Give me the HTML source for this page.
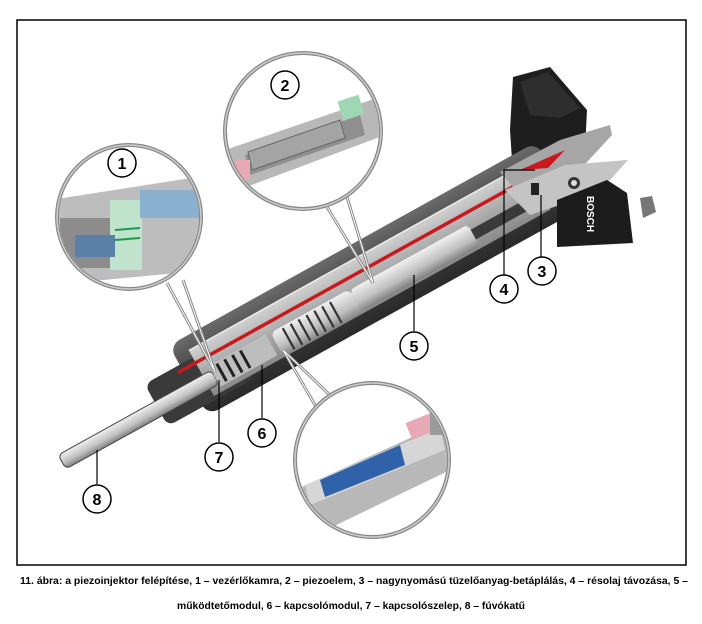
<!DOCTYPE html>
<html><head><meta charset="utf-8"><style>
html,body{margin:0;padding:0;background:#fff;}
svg{display:block;}
</style></head><body>
<svg width="702" height="624" viewBox="0 0 702 624" xmlns="http://www.w3.org/2000/svg">
<defs>
<linearGradient id="dk" x1="0" y1="0" x2="0" y2="1"><stop offset="0" stop-color="#6a6a6a"/><stop offset="0.5" stop-color="#3e3e3e"/><stop offset="1" stop-color="#2a2a2a"/></linearGradient>
<linearGradient id="lt" x1="0" y1="0" x2="0" y2="1"><stop offset="0" stop-color="#d0d0d0"/><stop offset="0.5" stop-color="#a9a9a9"/><stop offset="1" stop-color="#8a8a8a"/></linearGradient>
<linearGradient id="cy" x1="0" y1="0" x2="0" y2="1"><stop offset="0" stop-color="#f0f0f0"/><stop offset="0.6" stop-color="#c0c0c0"/><stop offset="1" stop-color="#808080"/></linearGradient>
<clipPath id="c1"><circle cx="129" cy="217" r="70"/></clipPath>
<clipPath id="c2"><circle cx="303" cy="131" r="76"/></clipPath>
<clipPath id="c3"><circle cx="372" cy="460" r="75"/></clipPath>
</defs>
<rect x="17" y="20" width="669" height="545" fill="#fff" stroke="#000" stroke-width="1.5"/>

<polygon points="513,77 550,67 587,110 585,150 540,170 512,160 510,130" fill="#1e1e1e"/>
<polygon points="520,82 548,72 580,108 560,118 530,115" fill="#2e2e2e"/>

<g transform="translate(62,462) rotate(-29)">
  <rect x="150" y="-50" width="420" height="80" rx="12" fill="url(#dk)"/>
  <rect x="110" y="-28" width="100" height="48" rx="8" fill="#3a3a3a"/>
  <rect x="165" y="-36" width="385" height="52" fill="url(#lt)"/>
  <rect x="0" y="-8" width="175" height="16" rx="5" fill="url(#cy)" stroke="#444" stroke-width="1"/>
  <rect x="175" y="-13" width="65" height="24" fill="#bdbdbd"/>
  <g stroke="#222" stroke-width="3">
    <line x1="183" y1="-11" x2="183" y2="9"/><line x1="192" y1="-11" x2="192" y2="9"/><line x1="201" y1="-11" x2="201" y2="9"/><line x1="210" y1="-11" x2="210" y2="9"/>
  </g>
  <rect x="245" y="-12" width="90" height="28" rx="6" fill="url(#cy)"/>
  <g stroke="#333" stroke-width="2.2">
    <line x1="258" y1="-10" x2="258" y2="14"/><line x1="267" y1="-10" x2="267" y2="14"/><line x1="276" y1="-10" x2="276" y2="14"/><line x1="285" y1="-10" x2="285" y2="14"/><line x1="294" y1="-10" x2="294" y2="14"/><line x1="303" y1="-10" x2="303" y2="14"/><line x1="312" y1="-10" x2="312" y2="14"/>
  </g>
  <rect x="335" y="-11" width="135" height="25" rx="5" fill="url(#cy)"/>
  <rect x="470" y="-5" width="60" height="11" fill="#3a3a3a"/>
  <line x1="145" y1="-22" x2="600" y2="-22" stroke="#c8191e" stroke-width="3.5"/>
  <line x1="165" y1="-36" x2="550" y2="-36" stroke="#ececec" stroke-width="1.5"/>
</g>

<polygon points="500,172 560,140 610,125 612,135 575,175 520,195" fill="#a6a6a6"/>
<polygon points="505,190 565,165 628,160 610,180 575,200 530,215" fill="#c4c4c4"/>
<polygon points="520,170 565,150 548,168" fill="#c8191e"/>
<circle cx="574" cy="183" r="6" fill="#333"/><circle cx="574" cy="183" r="3" fill="#ddd"/>
<rect x="531" y="183" width="8" height="12" fill="#222"/>
<polygon points="557,200 607,180 627,193 633,243 557,247" fill="#1c1c1c"/>
<polygon points="640,198 652,196 656,212 643,218" fill="#777"/>
<text x="0" y="0" transform="translate(587,196) rotate(90)" font-family="Liberation Sans, sans-serif" font-weight="bold" font-size="10" fill="#fff">BOSCH</text>

<g stroke="#000" stroke-width="1.2" fill="none">
  <polyline points="504,275 504,170 535,170"/>
  <line x1="541" y1="257" x2="541" y2="195"/>
  <line x1="414" y1="331" x2="414" y2="275"/>
  <line x1="262" y1="418" x2="262" y2="365"/>
  <line x1="219" y1="442" x2="219" y2="380"/>
  <line x1="97" y1="484" x2="97" y2="450"/>
</g>

<g stroke="#888" stroke-width="3" fill="none">
  <polyline points="167,283 215,372 183,280"/>
  <polyline points="327,207 373,283 347,197"/>
  <polyline points="318,410 283,350 333,398"/>
</g>
<g stroke="#fff" stroke-width="1" fill="none">
  <polyline points="167,283 215,372 183,280"/>
  <polyline points="327,207 373,283 347,197"/>
  <polyline points="318,410 283,350 333,398"/>
</g>

<circle cx="129" cy="217" r="72" fill="#fff" stroke="#888" stroke-width="4"/>
<g clip-path="url(#c1)">
  <polygon points="50,200 210,175 210,270 50,285" fill="#bdbdbd"/>
  <rect x="60" y="218" width="70" height="50" fill="#8c8c8c"/>
  <rect x="110" y="200" width="32" height="70" fill="#bfe3cc"/>
  <rect x="140" y="190" width="60" height="28" fill="#8ab0d0"/>
  <rect x="75" y="235" width="40" height="22" fill="#5a7fa8"/>
  <line x1="115" y1="230" x2="140" y2="228" stroke="#1a9a4a" stroke-width="2"/>
  <line x1="115" y1="240" x2="140" y2="238" stroke="#1a9a4a" stroke-width="2"/>
</g>
<circle cx="129" cy="217" r="72" fill="none" stroke="#ccc" stroke-width="1.5"/>

<circle cx="303" cy="131" r="78" fill="#fff" stroke="#888" stroke-width="4"/>
<g clip-path="url(#c2)">
  <polygon points="225,150 385,95 385,135 225,195" fill="#b8b8b8"/>
  <polygon points="245,155 360,115 365,135 250,175" fill="#8f8f8f"/>
  <polygon points="248,152 340,120 345,138 252,170" fill="#a4a4a4" stroke="#666"/>
  <rect x="340" y="98" width="22" height="20" fill="#9fd6b4" transform="rotate(-18 350 108)"/>
  <rect x="236" y="160" width="14" height="20" fill="#e8a9b4"/>
</g>
<circle cx="303" cy="131" r="78" fill="none" stroke="#ccc" stroke-width="1.5"/>

<circle cx="372" cy="460" r="77" fill="#fff" stroke="#888" stroke-width="4"/>
<g clip-path="url(#c3)">
  <polygon points="295,490 450,420 450,470 295,545" fill="#b8b8b8"/>
  <polygon points="305,485 440,428 445,450 310,505" fill="#d6d6d6"/>
  <polygon points="320,480 400,445 405,465 325,497" fill="#2f62a8"/>
  <rect x="408" y="418" width="28" height="18" fill="#e6a9b5" transform="rotate(-22 420 427)"/>
  <rect x="430" y="405" width="20" height="30" fill="#9a9a9a"/>
</g>
<circle cx="372" cy="460" r="77" fill="none" stroke="#ccc" stroke-width="1.5"/>

<g font-family="Liberation Sans, sans-serif" font-weight="bold" font-size="16" text-anchor="middle" fill="#000">
  <circle cx="122" cy="163" r="14" fill="#fff" stroke="#000" stroke-width="1.5"/><text x="122" y="169">1</text>
  <circle cx="285" cy="85" r="14" fill="#fff" stroke="#000" stroke-width="1.5"/><text x="285" y="91">2</text>
  <circle cx="542" cy="271" r="14" fill="#fff" stroke="#000" stroke-width="1.5"/><text x="542" y="277">3</text>
  <circle cx="504" cy="289" r="14" fill="#fff" stroke="#000" stroke-width="1.5"/><text x="504" y="295">4</text>
  <circle cx="414" cy="346" r="14" fill="#fff" stroke="#000" stroke-width="1.5"/><text x="414" y="352">5</text>
  <circle cx="262" cy="433" r="14" fill="#fff" stroke="#000" stroke-width="1.5"/><text x="262" y="439">6</text>
  <circle cx="219" cy="457" r="14" fill="#fff" stroke="#000" stroke-width="1.5"/><text x="219" y="463">7</text>
  <circle cx="97" cy="499" r="14" fill="#fff" stroke="#000" stroke-width="1.5"/><text x="97" y="505">8</text>
</g>

<g font-family="Liberation Sans, sans-serif" font-weight="bold" font-size="10" fill="#000">
  <text x="20" y="584" textLength="668" lengthAdjust="spacingAndGlyphs">11. ábra: a piezoinjektor felépítése, 1 – vezérlőkamra, 2 – piezoelem, 3 – nagynyomású tüzelőanyag-betáplálás, 4 – résolaj távozása, 5 –</text>
  <text x="177" y="609" textLength="348" lengthAdjust="spacingAndGlyphs">működtetőmodul, 6 – kapcsolómodul, 7 – kapcsolószelep, 8 – fúvókatű</text>
</g>
</svg>
</body></html>
